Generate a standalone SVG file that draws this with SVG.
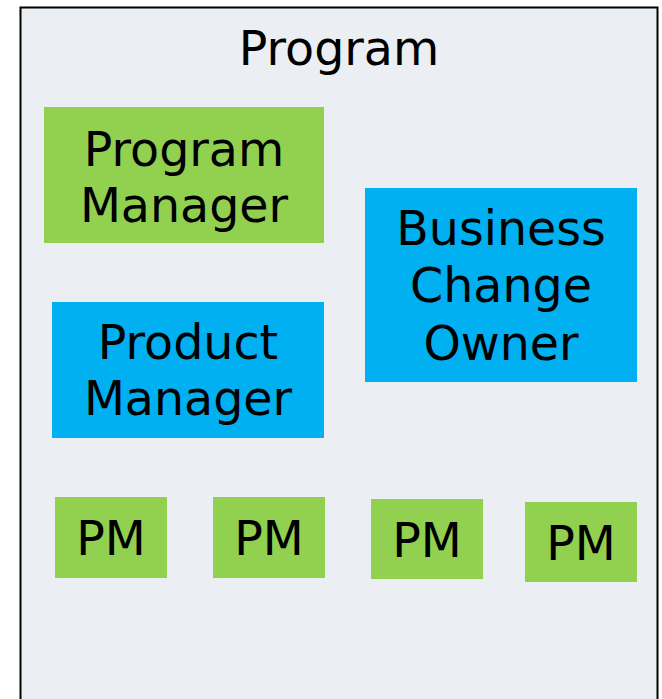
<svg xmlns="http://www.w3.org/2000/svg" width="662" height="699" viewBox="0 0 662 699">
<style>
.t{font-family:"DejaVu Sans",Verdana,sans-serif;font-size:47.5px;fill:#000;text-anchor:middle}
.g{fill:#92D050}
.b{fill:#00B0F0}
</style>
<rect width="662" height="699" fill="#fff"/>
<g id="program">
<rect x="20.5" y="7.5" width="637" height="720" fill="#EBEEF2" stroke="#000" stroke-width="2"/>
<text class="t" x="339" y="65">Program</text>
</g>
<g id="program-manager">
<rect class="g" x="44" y="107" width="280" height="136"/>
<text class="t" x="184" y="166">Program</text>
<text class="t" x="184" y="222">Manager</text>
</g>
<g id="product-manager">
<rect class="b" x="52" y="302" width="272" height="136"/>
<text class="t" x="188" y="359">Product</text>
<text class="t" x="188" y="415">Manager</text>
</g>
<g id="business-change-owner">
<rect class="b" x="365" y="188" width="272" height="194"/>
<text class="t" x="501" y="245">Business</text>
<text class="t" x="501" y="302">Change</text>
<text class="t" x="501" y="360">Owner</text>
</g>
<g id="pm1">
<rect class="g" x="55" y="497" width="112" height="81"/>
<text class="t" x="111" y="555">PM</text>
</g>
<g id="pm2">
<rect class="g" x="213" y="497" width="112" height="81"/>
<text class="t" x="269" y="555">PM</text>
</g>
<g id="pm3">
<rect class="g" x="371" y="499" width="112" height="80"/>
<text class="t" x="427" y="557">PM</text>
</g>
<g id="pm4">
<rect class="g" x="525" y="502" width="112" height="80"/>
<text class="t" x="581" y="560">PM</text>
</g>
<g id="connectors"/>
</svg>
